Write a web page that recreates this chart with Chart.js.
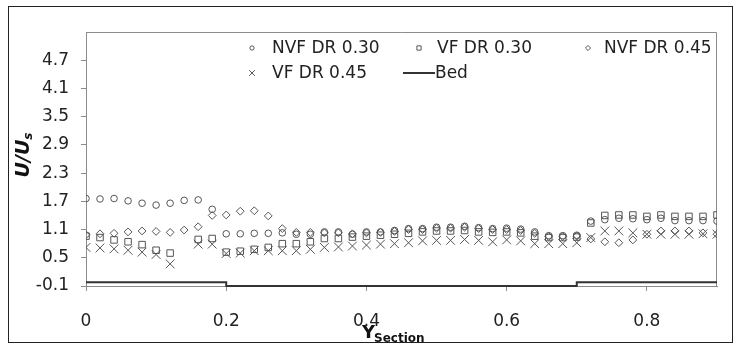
<!DOCTYPE html>
<html>
<head>
<meta charset="utf-8">
<script src="https://cdn.jsdelivr.net/npm/chart.js@4.4.1/dist/chart.umd.min.js"></script>
<style>
  html, body { margin: 0; padding: 0; background: #fff; }
  #wrap { width: 735px; height: 345px; }
</style>
</head>
<body>
<div id="wrap"><canvas id="myChart" width="735" height="345"></canvas></div>
<script>
// Y_Section positions
const ySection = [0.00, 0.02, 0.04, 0.06, 0.08, 0.10, 0.12, 0.14, 0.16, 0.18,
                  0.20, 0.22, 0.24, 0.26, 0.28, 0.30, 0.32, 0.34, 0.36, 0.38,
                  0.40, 0.42, 0.44, 0.46, 0.48, 0.50, 0.52, 0.54, 0.56, 0.58,
                  0.60, 0.62, 0.64, 0.66, 0.68, 0.70, 0.72, 0.74, 0.76, 0.78,
                  0.80, 0.82, 0.84, 0.86, 0.88, 0.90];

// U/Us per series (null = no point)
const nvf30 = [1.76, 1.75, 1.76, 1.71, 1.66, 1.62, 1.66, 1.72, 1.73, 1.53,
               1.01, 1.01, 1.02, 1.02, 1.03, 1.00, 1.00, 1.05, 1.05, 1.00,
               1.05, 1.05, 1.08, 1.12, 1.12, 1.15, 1.15, 1.17, 1.14, 1.12,
               1.13, 1.11, 1.05, 0.97, 0.97, 0.98, 1.28, 1.31, 1.34, 1.33,
               1.31, 1.34, 1.29, 1.29, 1.29, 1.28];
const vf30 = [0.96, 0.93, 0.88, 0.84, 0.78, 0.66, 0.60, null, 0.89, 0.91,
              0.62, 0.64, 0.68, 0.72, 0.80, 0.80, 0.84, 0.91, 0.91, 0.94,
              0.96, 0.98, 1.00, 1.02, 1.05, 1.07, 1.07, 1.08, 1.05, 1.04,
              1.05, 1.03, 0.96, 0.93, 0.93, 0.94, 1.24, 1.40, 1.41, 1.41,
              1.38, 1.41, 1.38, 1.38, 1.38, 1.41];
const nvf45 = [0.99, 1.01, 1.02, 1.05, 1.07, 1.06, 1.04, 1.09, 1.16, 1.40,
               1.41, 1.49, 1.50, 1.39, 1.12, 1.04, 1.04, 1.03, 1.03, 1.01,
               1.03, 1.04, 1.06, 1.10, 1.10, 1.13, 1.13, 1.15, 1.12, 1.10,
               1.10, 1.08, 1.02, 0.95, 0.95, 0.96, 0.90, 0.84, 0.82, 0.88,
               1.00, 1.07, 1.07, 1.07, 1.03, 1.00];
const vf45 = [0.72, 0.71, 0.69, 0.66, 0.62, 0.57, 0.37, null, 0.79, 0.79,
              0.59, 0.60, 0.65, 0.65, 0.65, 0.65, 0.68, 0.72, 0.73, 0.75,
              0.77, 0.79, 0.80, 0.82, 0.86, 0.87, 0.87, 0.89, 0.87, 0.84,
              0.88, 0.86, 0.80, 0.80, 0.80, 0.82, 0.93, 1.07, 1.07, 1.03,
              1.00, 1.00, 1.00, 1.00, 1.01, 1.00];

// bed profile
const bedX = [0, 0.2, 0.2, 0.7, 0.7, 0.9];
const bedY = [-0.02, -0.02, -0.1, -0.1, -0.02, -0.02];

const xTicks = [0, 0.2, 0.4, 0.6, 0.8];
const yTicks = [-0.1, 0.5, 1.1, 1.7, 2.3, 2.9, 3.5, 4.1, 4.7];
const seriesNames = ['NVF DR 0.30', 'VF DR 0.30', 'NVF DR 0.45', 'VF DR 0.45', 'Bed'];

const FONT = '"DejaVu Sans", sans-serif';
const MARK = '#555';

function toPoints(xs, ys) {
  let pts = [];
  for (let i = 0; i < xs.length; i++) {
    if (ys[i] !== null) pts.push({x: xs[i], y: ys[i]});
  }
  return pts;
}

function markerSet(style, r) {
  return {
    showLine: false,
    pointStyle: style,
    pointRadius: r,
    pointHoverRadius: r,
    pointBorderWidth: 1,
    borderColor: MARK,
    backgroundColor: 'rgba(0,0,0,0)'
  };
}

// draws a small marker, same shapes as chart.js
function drawMark(ctx, style, x, y, r) {
  const d = Math.SQRT1_2 * r;
  ctx.beginPath();
  if (style == 'circle') {
    ctx.arc(x, y, r, 0, Math.PI * 2);
  } else if (style == 'rect') {
    ctx.rect(x - d, y - d, 2 * d, 2 * d);
  } else if (style == 'rectRot') {
    ctx.moveTo(x - r, y); ctx.lineTo(x, y - r); ctx.lineTo(x + r, y); ctx.lineTo(x, y + r);
    ctx.closePath();
  } else if (style == 'crossRot') {
    ctx.moveTo(x - d, y - d); ctx.lineTo(x + d, y + d);
    ctx.moveTo(x - d, y + d); ctx.lineTo(x + d, y - d);
  }
  ctx.stroke();
}

// legend inside the plot, two rows (mx = marker centre, tx = text start)
const legendSpots = [
  {i: 0, mx: 252, tx: 272, y: 48},
  {i: 1, mx: 419, tx: 437, y: 48},
  {i: 2, mx: 588, tx: 604, y: 48},
  {i: 3, mx: 252, tx: 272, y: 73},
  {i: 4, mx: 419, tx: 435, y: 73}
];

const extras = {
  id: 'extras',
  beforeDatasetsDraw(chart) {
    const ctx = chart.ctx;
    const a = chart.chartArea;
    ctx.save();
    ctx.strokeStyle = '#8c8c8c';
    ctx.lineWidth = 1;
    ctx.beginPath();
    ctx.moveTo(a.left, a.top + 0.5);
    ctx.lineTo(a.right - 0.5, a.top + 0.5);
    ctx.lineTo(a.right - 0.5, a.bottom);
    ctx.stroke();
    ctx.restore();
  },
  afterDraw(chart) {
    const ctx = chart.ctx;
    ctx.save();
    // outer border
    ctx.strokeStyle = '#222';
    ctx.lineWidth = 1;
    ctx.strokeRect(8.5, 6.5, 724, 336);

    // legend
    ctx.font = '17px ' + FONT;
    ctx.textBaseline = 'middle';
    ctx.textAlign = 'left';
    legendSpots.forEach(s => {
      const ds = chart.data.datasets[s.i];
      ctx.strokeStyle = ds.borderColor;
      if (ds.showLine) {
        ctx.lineWidth = 2;
        ctx.beginPath();
        ctx.moveTo(s.mx - 16, s.y);
        ctx.lineTo(s.mx + 16, s.y);
        ctx.stroke();
      } else {
        ctx.lineWidth = 1;
        drawMark(ctx, ds.pointStyle, s.mx, s.y, ds.pointRadius * 0.65);
      }
      ctx.fillStyle = '#222';
      ctx.fillText(ds.label, s.tx, s.y + 1);
    });

    // y title U/Us
    ctx.fillStyle = '#111';
    ctx.translate(22, 155);
    ctx.rotate(-Math.PI / 2);
    ctx.font = 'italic bold 19px ' + FONT;
    const w1 = ctx.measureText('U/U').width;
    ctx.font = 'italic bold 12px ' + FONT;
    const w2 = ctx.measureText('s').width;
    const start = -(w1 + w2) / 2;
    ctx.textBaseline = 'alphabetic';
    ctx.font = 'italic bold 19px ' + FONT;
    ctx.fillText('U/U', start, 7);
    ctx.font = 'italic bold 12px ' + FONT;
    ctx.fillText('s', start + w1, 10);
    ctx.restore();

    // x title Y_Section
    ctx.save();
    ctx.fillStyle = '#111';
    ctx.textBaseline = 'alphabetic';
    ctx.font = 'bold 18px ' + FONT;
    const wy = ctx.measureText('Y').width;
    ctx.fillText('Y', 362, 338);
    ctx.font = 'bold 12px ' + FONT;
    ctx.fillText('Section', 362 + wy - 1, 342);
    ctx.restore();
  }
};

const data = {
  datasets: [
    Object.assign({label: seriesNames[0], data: toPoints(ySection, nvf30)}, markerSet('circle', 3.3)),
    Object.assign({label: seriesNames[1], data: toPoints(ySection, vf30)}, markerSet('rect', 4.6)),
    Object.assign({label: seriesNames[2], data: toPoints(ySection, nvf45)}, markerSet('rectRot', 3.9)),
    Object.assign({label: seriesNames[3], data: toPoints(ySection, vf45)}, markerSet('crossRot', 6.2)),
    {
      label: seriesNames[4],
      data: toPoints(bedX, bedY),
      showLine: true,
      pointRadius: 0,
      borderColor: '#333',
      borderWidth: 2,
      clip: false
    }
  ]
};

const config = {
  type: 'scatter',
  data: data,
  options: {
    responsive: false,
    animation: false,
    layout: { padding: { left: 0, top: 32, right: 18, bottom: 0 } },
    plugins: {
      legend: { display: false },
      tooltip: { enabled: false }
    },
    scales: {
      x: {
        type: 'linear',
        min: 0,
        max: 0.9,
        afterBuildTicks: axis => { axis.ticks = xTicks.map(v => ({value: v})); },
        afterFit: axis => { axis.height = 59; },
        grid: { drawOnChartArea: false, drawTicks: true, tickLength: 5, color: '#8c8c8c' },
        border: { color: '#8c8c8c' },
        ticks: {
          padding: 20,
          autoSkip: false,
          maxRotation: 0,
          color: '#222',
          font: { family: FONT, size: 17 },
          callback: v => String(v)
        }
      },
      y: {
        min: -0.1,
        max: 5.3,
        afterBuildTicks: axis => { axis.ticks = yTicks.map(v => ({value: v})); },
        afterFit: axis => { axis.width = 86; },
        grid: { drawOnChartArea: false, drawTicks: true, tickLength: 5, color: '#8c8c8c' },
        border: { color: '#8c8c8c' },
        ticks: {
          padding: 12,
          autoSkip: false,
          color: '#222',
          font: { family: FONT, size: 17 },
          callback: v => v.toFixed(1)
        }
      }
    }
  },
  plugins: [extras]
};

const myChart = new Chart(document.getElementById('myChart'), config);
</script>
</body>
</html>
